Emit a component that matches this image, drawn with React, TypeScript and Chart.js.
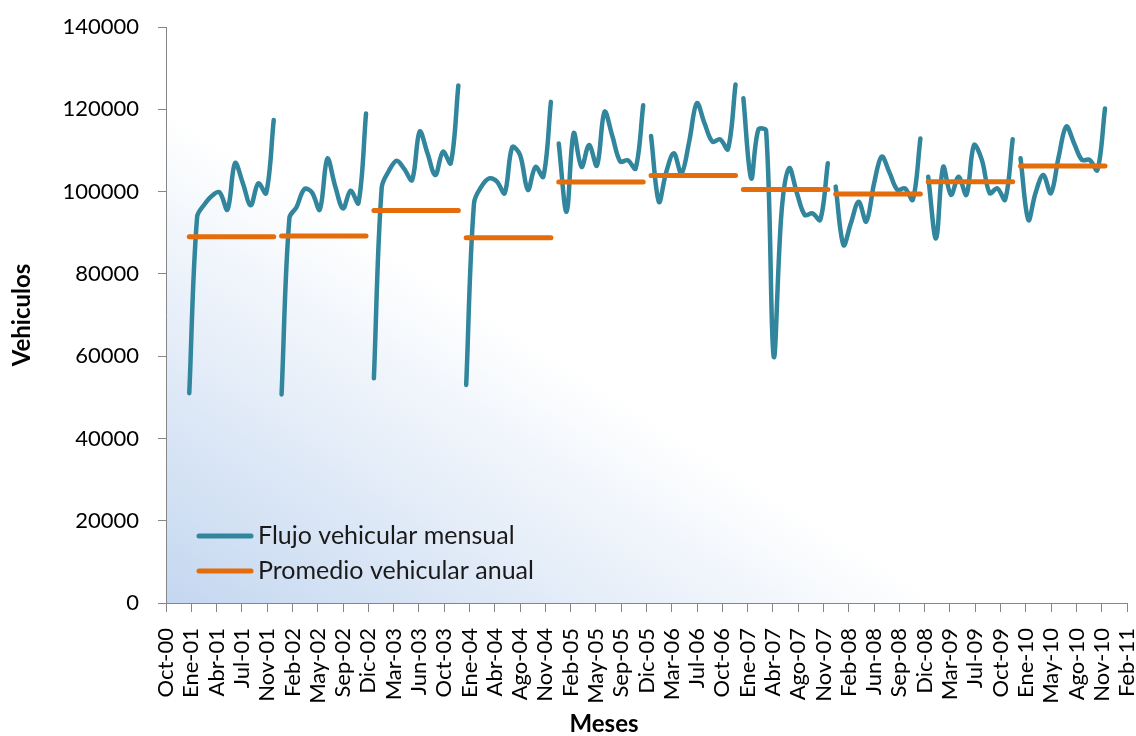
import React, { useEffect, useRef } from "react";
import { Chart, registerables } from "chart.js";

Chart.register(...registerables);

// Tick labels of the date axis (one every 100 days from Oct 1 2000)
const tickLabels = [
  "Oct-00", "Ene-01", "Abr-01", "Jul-01", "Nov-01", "Feb-02", "May-02", "Sep-02", "Dic-02",
  "Mar-03", "Jun-03", "Oct-03", "Ene-04", "Abr-04", "Ago-04", "Nov-04", "Feb-05", "May-05",
  "Sep-05", "Dic-05", "Mar-06", "Jul-06", "Oct-06", "Ene-07", "Abr-07", "Ago-07", "Nov-07",
  "Feb-08", "Jun-08", "Sep-08", "Dic-08", "Mar-09", "Jul-09", "Oct-09", "Ene-10", "May-10",
  "Ago-10", "Nov-10", "Feb-11",
];

const years = [2001, 2002, 2003, 2004, 2005, 2006, 2007, 2008, 2009, 2010];

// Monthly vehicle flow (Jan..Dec) per year
const flujo2001 = [51000, 93800, 96800, 99000, 99800, 95600, 106900, 102000, 96700, 102000, 99600, 117400];
const flujo2002 = [50700, 93600, 96200, 100600, 99800, 95600, 108000, 101300, 95900, 100200, 97200, 119000];
const flujo2003 = [54600, 101000, 105000, 107500, 105500, 102800, 114600, 109300, 104000, 109700, 106900, 125800];
const flujo2004 = [53000, 97200, 101200, 103200, 102500, 99600, 110800, 108900, 100400, 106000, 103600, 121800];
const flujo2005 = [111700, 95100, 114200, 106000, 111300, 106300, 119400, 113500, 107300, 107600, 105600, 121000];
const flujo2006 = [113500, 97500, 104500, 109300, 104400, 112200, 121500, 116500, 112100, 112700, 110300, 126000];
const flujo2007 = [122700, 103200, 115000, 114800, 59900, 95000, 105700, 99600, 94300, 94700, 93100, 106900];
const flujo2008 = [101200, 87000, 92300, 97500, 92700, 102000, 108500, 104600, 100400, 100800, 98000, 112900];
const flujo2009 = [103600, 88600, 106000, 99200, 103600, 99200, 111300, 107700, 99600, 100800, 98000, 112700];
const flujo2010 = [108100, 93100, 99600, 104000, 99600, 108500, 115800, 111700, 107700, 107700, 105200, 120200];

const flujoPorAnio = [
  flujo2001, flujo2002, flujo2003, flujo2004, flujo2005,
  flujo2006, flujo2007, flujo2008, flujo2009, flujo2010,
];

// Annual average vehicle flow
const promedioAnual = [89000, 89200, 95400, 88800, 102300, 103900, 100500, 99400, 102400, 106200];

const AXIS_START = Date.UTC(2000, 9, 1);
const AXIS_DAYS = 3800;
const dayOf = (y: number, m: number) => (Date.UTC(y, m, 1) - AXIS_START) / 86400000;

const FONT = "Lato, 'Open Sans', sans-serif";
const TEAL = "#31859C";
const ORANGE = "#E46C0A";
const AXIS_GRAY = "#868686";

export default function App() {
  const canvasRef = useRef<HTMLCanvasElement | null>(null);

  useEffect(() => {
    document.body.style.margin = "0";
    const canvas = canvasRef.current;
    if (!canvas) return;

    const flujoData: { x: number; y: number | null }[] = [];
    const promData: { x: number; y: number | null }[] = [];
    years.forEach((yr, i) => {
      flujoPorAnio[i].forEach((v, m) => flujoData.push({ x: dayOf(yr, m), y: v }));
      flujoData.push({ x: dayOf(yr, 11) + 15, y: null });
      promData.push({ x: dayOf(yr, 0), y: promedioAnual[i] });
      promData.push({ x: dayOf(yr, 11), y: promedioAnual[i] });
      promData.push({ x: dayOf(yr, 11) + 15, y: null });
    });

    const bgPlugin = {
      id: "plotBg",
      beforeDraw(chart: any) {
        const { ctx, chartArea: a } = chart;
        const g = ctx.createLinearGradient(a.left, a.bottom, a.left + 223, a.bottom - 352);
        g.addColorStop(0, "#C4D7F0");
        g.addColorStop(1, "#FFFFFF");
        ctx.save();
        ctx.fillStyle = g;
        ctx.fillRect(a.left, a.top, a.right - a.left, a.bottom - a.top);
        ctx.restore();
      },
    };

    const legendItems = [
      { label: "Flujo vehicular mensual", color: TEAL, y: 536 },
      { label: "Promedio vehicular anual", color: ORANGE, y: 571 },
    ];

    const overlayPlugin = {
      id: "overlay",
      afterDraw(chart: any) {
        const { ctx } = chart;
        ctx.save();
        legendItems.forEach((it) => {
          ctx.strokeStyle = it.color;
          ctx.lineWidth = 5;
          ctx.lineCap = "round";
          ctx.beginPath();
          ctx.moveTo(199, it.y);
          ctx.lineTo(251, it.y);
          ctx.stroke();
          ctx.fillStyle = "#1a1a1a";
          ctx.font = `25px ${FONT}`;
          ctx.textAlign = "left";
          ctx.textBaseline = "middle";
          ctx.fillText(it.label, 258, it.y);
        });
        ctx.fillStyle = "#000";
        ctx.font = `bold 24px ${FONT}`;
        ctx.textAlign = "center";
        ctx.textBaseline = "middle";
        ctx.fillText("Meses", 604, 724);
        ctx.restore();
      },
    };

    const chart = new Chart(canvas, {
      type: "line",
      data: {
        datasets: [
          {
            label: "Flujo vehicular mensual",
            data: flujoData as any,
            borderColor: TEAL,
            backgroundColor: TEAL,
            borderWidth: 4.5,
            pointRadius: 0,
            tension: 0.35,
            borderCapStyle: "round",
            borderJoinStyle: "round",
            spanGaps: false,
            order: 2,
          },
          {
            label: "Promedio vehicular anual",
            data: promData as any,
            borderColor: ORANGE,
            backgroundColor: ORANGE,
            borderWidth: 5,
            pointRadius: 0,
            tension: 0,
            borderCapStyle: "round",
            spanGaps: false,
            order: 1,
          },
        ],
      },
      options: {
        animation: false,
        responsive: false,
        devicePixelRatio: 1,
        layout: { padding: { top: 27, right: 9, bottom: 0, left: 0 } },
        plugins: {
          legend: { display: false },
          tooltip: { enabled: false },
        },
        scales: {
          x: {
            type: "linear",
            min: 0,
            max: AXIS_DAYS,
            afterFit: (s: any) => {
              s.height = 133;
              s.paddingLeft = 0;
              s.paddingRight = 0;
            },
            ticks: {
              stepSize: 100,
              autoSkip: false,
              maxRotation: 90,
              minRotation: 90,
              padding: 16,
              color: "#000",
              font: { family: FONT, size: 22 },
              callback: (v: any) => tickLabels[Math.round(Number(v) / 100)] ?? "",
            },
            grid: {
              drawOnChartArea: false,
              drawTicks: true,
              tickLength: 9,
              color: AXIS_GRAY,
              tickColor: AXIS_GRAY,
            },
            border: { display: true, color: AXIS_GRAY, width: 1 },
          },
          y: {
            type: "linear",
            min: 0,
            max: 140000,
            afterFit: (s: any) => {
              s.width = 166;
              s.paddingTop = 0;
              s.paddingBottom = 0;
            },
            ticks: {
              stepSize: 20000,
              padding: 19,
              color: "#000",
              font: { family: FONT, size: 22 },
              callback: (v: any) => String(v),
            },
            grid: {
              drawOnChartArea: false,
              drawTicks: true,
              tickLength: 8,
              color: AXIS_GRAY,
              tickColor: AXIS_GRAY,
            },
            border: { display: true, color: AXIS_GRAY, width: 1 },
            title: {
              display: true,
              text: "Vehiculos",
              color: "#000",
              font: { family: FONT, size: 24, weight: "bold" },
              padding: { top: 8, bottom: 0 },
            },
          },
        },
      },
      plugins: [bgPlugin, overlayPlugin],
    });

    return () => chart.destroy();
  }, []);

  return (
    <div style={{ position: "absolute", left: 0, top: 0, width: 1136, height: 736, background: "#fff" }}>
      <canvas ref={canvasRef} width={1136} height={736} style={{ display: "block" }} />
    </div>
  );
}
